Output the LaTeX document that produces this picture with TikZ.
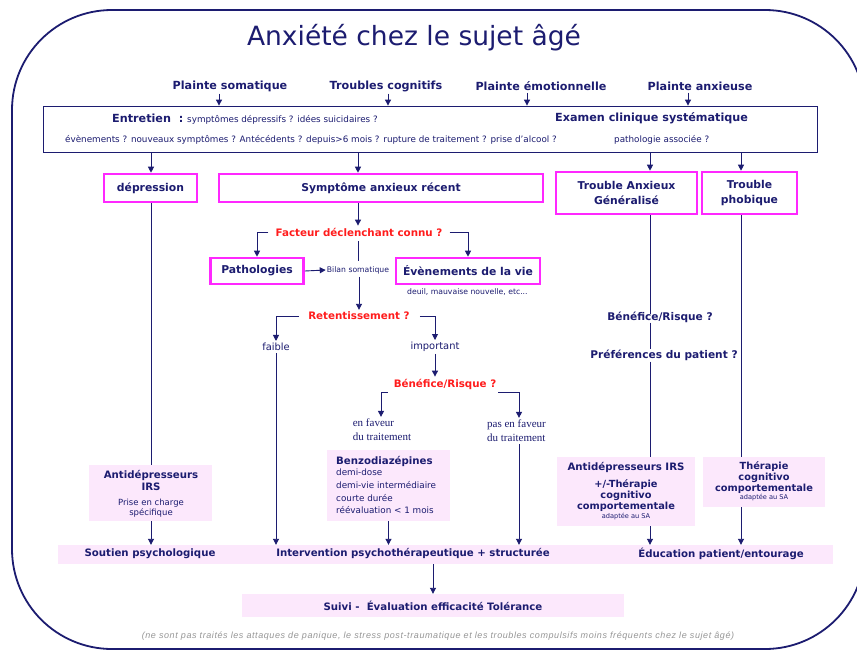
\documentclass[tikz,border=0pt]{standalone}
\usepackage{fontspec}
\setmainfont{DejaVu Sans}
\newfontfamily\serifface{Liberation Serif}
\newfontfamily\notefont[LetterSpace=6.5]{Liberation Sans}
\usetikzlibrary{arrows.meta}

\definecolor{navy}{RGB}{28,28,112}
\definecolor{mag}{RGB}{255,40,255}
\definecolor{pinkbg}{RGB}{252,232,252}
\definecolor{redq}{RGB}{255,28,28}
\definecolor{notegray}{RGB}{150,150,150}

\tikzset{
  every node/.style={text=navy, inner sep=2pt},
  hdA/.style={font=\bfseries\fontsize{11.2}{13}\selectfont},
  hdM/.style={font=\bfseries\fontsize{10.8}{15}\selectfont},
  hdB/.style={font=\bfseries\fontsize{10.2}{12}\selectfont},
  hdC/.style={font=\bfseries\fontsize{9.8}{11}\selectfont},
  txt/.style={font=\fontsize{8.8}{10.5}\selectfont},
  small/.style={font=\fontsize{7.7}{9}\selectfont},
  tinytxt/.style={font=\fontsize{6.6}{8}\selectfont},
  mid/.style={font=\fontsize{9.9}{12}\selectfont},
  srf/.style={font=\serifface\fontsize{11}{14}\selectfont, align=left},
  quest/.style={font=\bfseries\fontsize{10.3}{12}\selectfont, text=redq},
  magbox/.style={draw=mag, line width=2.6pt, fill=white, inner sep=0pt, align=center, hdM},
  pinkbox/.style={fill=pinkbg, inner sep=0pt},
  arr/.style={draw=navy, line width=0.9pt, -{Triangle[length=6pt,width=6pt]}},
  ln/.style={draw=navy, line width=0.9pt},
  frame/.style={draw=navy, line width=1.8pt, rounded corners=100pt},
}

\begin{document}
\begin{tikzpicture}[x=1pt,y=-1pt]
\useasboundingbox (0,0) rectangle (857,651);
\fill[white] (0,0) rectangle (857,651);

% outer rounded frame, partly running off the page on the right
\begin{scope}
  \clip (0,0) rectangle (857,651);
  \draw[frame] (12,10) rectangle (865,649);
\end{scope}

% column positions of the vertical connectors
\coordinate (k1) at (219,0);
\coordinate (k2) at (388,0);
\coordinate (k3) at (527,0);
\coordinate (k4) at (688,0);
\coordinate (cA) at (151,0);
\coordinate (cB) at (358,0);
\coordinate (cR) at (650,0);
\coordinate (cP) at (741,0);

% title
\node[font=\fontsize{26.5}{30}\selectfont] (title) at (414,38) {Anxiété chez le sujet âgé};

% presenting complaints
\node[hdA] (ps) at (230,86) {Plainte somatique};
\node[hdA] (tc) at (386,86) {Troubles cognitifs};
\node[hdA] (pe) at (541,86) {Plainte émotionnelle};
\node[hdA] (pa) at (700,86) {Plainte anxieuse};

% interview / examination box
\node[draw=navy, line width=0.8pt, minimum width=774, minimum height=46, inner sep=0pt] (ent) at (430,129) {};
\node[anchor=west, inner sep=0pt] (entA) at (112,119)
  {{\bfseries\fontsize{11.2}{13}\selectfont Entretien\ \ :\ }{\fontsize{8.8}{10}\selectfont symptômes dépressifs ? idées suicidaires ?}};
\node[txt, anchor=west, inner sep=0pt] (entB) at (65,140)
  {évènements ? nouveaux symptômes ? Antécédents ? depuis>6 mois ? rupture de traitement ? prise d'alcool ?};
\node[hdA, anchor=west, inner sep=0pt] (exa) at (555,118) {Examen clinique systématique};
\node[txt, anchor=west, inner sep=0pt] (exb) at (614,140) {pathologie associée ?};

\draw[arr] (ps.south -| k1) -- (ent.north -| k1);
\draw[arr] (tc.south -| k2) -- (ent.north -| k2);
\draw[arr] (pe.south -| k3) -- (ent.north -| k3);
\draw[arr] (pa.south -| k4) -- (ent.north -| k4);

% diagnoses
\node[magbox, minimum width=93, minimum height=28] (dep) at (150.5,188) {dépression};
\node[magbox, minimum width=324, minimum height=28] (sar) at (381,188) {Symptôme anxieux récent};
\node[magbox, minimum width=141, minimum height=42] (tag) at (626.5,193) {Trouble Anxieux\\Généralisé};
\node[magbox, minimum width=95, minimum height=42] (tph) at (749.5,193) {Trouble\\phobique};

\draw[arr] (ent.south -| cA) -- (dep.north -| cA);
\draw[arr] (ent.south -| cB) -- (sar.north -| cB);
\draw[arr] (ent.south -| cR) -- (tag.north -| cR);
\draw[arr] (ent.south -| cP) -- (tph.north -| cP);

% recent anxiety symptom branch
\node[quest] (fac) at (359,232) {Facteur déclenchant connu ?};
\draw[arr] (sar.south -| cB) -- (fac.north -| cB);

\node[magbox, minimum width=93, minimum height=26] (pat) at (257,271) {Pathologies};
\node[magbox, minimum width=144, minimum height=26] (eve) at (468,271) {Évènements de la vie};
\node[small, inner sep=1pt] (bil) at (358,270) {Bilan somatique};
\node[small, anchor=west, inner sep=0pt] (deu) at (407,292) {deuil, mauvaise nouvelle, etc...};

\draw[arr] ([xshift=-5pt]fac.west) -| (pat.north);
\draw[arr] ([xshift=5pt]fac.east) -| (eve.north);
\draw[arr] (pat.east) -- (bil.west);
\draw[ln, shorten <=3pt, shorten >=4pt] (fac.south -| cB) -- (bil.north -| cB);

\node[quest] (ret) at (359,316) {Retentissement ?};
\draw[arr, shorten <=2pt] (bil.south -| ret.north) -- (ret.north);

\node[mid] (fai) at (276,347) {faible};
\node[mid] (imp) at (435,347) {important};
\draw[arr] ([xshift=-7pt]ret.west) -| (fai.north);
\draw[arr] ([xshift=8pt]ret.east) -| (imp.north);

\node[quest] (ben) at (445,384) {Bénéfice/Risque ?};
\draw[arr] (imp.south) -- (imp.south |- ben.north);

\node[srf] (enf) at (382,430) {en faveur\\du traitement};
\node[srf] (paf) at (516.5,431) {pas en faveur\\du traitement};
\draw[arr] ([xshift=-4pt,yshift=-1pt]ben.south west) -| ([xshift=-1pt]enf.north);
\draw[arr] ([yshift=-1pt]ben.south east) -| ([xshift=2.5pt]paf.north);

% treatment boxes
\node[pinkbox, minimum width=123, minimum height=71] (bzd) at (388.5,485.5) {};
\node[hdB, anchor=west, inner sep=0pt] (bzt) at (336,461) {Benzodiazépines};
\node[txt, anchor=north west, align=left, inner sep=0pt, font=\fontsize{8.8}{12.7}\selectfont] (bzl) at (336,469)
  {demi-dose\\demi-vie intermédiaire\\courte durée\\réévaluation < 1 mois};

\node[pinkbox, minimum width=123, minimum height=56] (adl) at (150.5,493) {};
\node[hdB, align=center] (adlt) at (151,480) {Antidépresseurs\\IRS};
\node[align=center, font=\fontsize{8.5}{10}\selectfont] (adls) at (151,508) {Prise en charge\\spécifique};

\node[pinkbox, minimum width=138, minimum height=69] (adr) at (626,491.5) {};
\node[hdB] (adrt) at (626,467) {Antidépresseurs IRS};
\node[hdC, align=center] (adrs) at (626,496) {+/-Thérapie\\cognitivo\\comportementale};
\node[tinytxt] (adra) at (626,517) {adaptée au SA};

\node[pinkbox, minimum width=122, minimum height=50] (thr) at (764,482) {};
\node[hdC, align=center] (thrt) at (764,478) {Thérapie\\cognitivo\\comportementale};
\node[tinytxt] (thra) at (764,498) {adaptée au SA};

\draw[ln] (dep.south -| cA) -- (adl.north -| cA);

% right-hand branches
\node[font=\bfseries\fontsize{10.6}{12}\selectfont] (bnr) at (660,317) {Bénéfice/Risque ?};
\node[font=\bfseries\fontsize{10.6}{12}\selectfont] (prf) at (664,355) {Préférences du patient ?};
\draw[ln] (tag.south -| cR) -- ([yshift=-5pt]bnr.north -| cR);
\draw[ln] ([yshift=2pt]bnr.south -| cR) -- ([yshift=-2pt]prf.north -| cR);
\draw[ln] ([yshift=1pt]prf.south -| cR) -- (adr.north -| cR);
\draw[ln] (tph.south -| cP) -- (thr.north -| cP);

% bottom band
\node[pinkbox, minimum width=775, minimum height=19] (band) at (445.5,554.5) {};
\node[hdB] (sou) at (150,554) {Soutien psychologique};
\node[hdB] (itv) at (413,554) {Intervention psychothérapeutique + structurée};
\node[hdB] (edu) at (721,554) {Éducation patient/entourage};

\draw[arr] (adl.south -| cA) -- (band.north -| cA);
\draw[arr] (fai.south) -- (fai.south |- band.north);
\draw[arr] (bzd.south) -- (bzd.south |- band.north);
\draw[arr] ([xshift=2.5pt]paf.south) -- ([xshift=2.5pt]paf.south |- band.north);
\draw[arr] (adr.south -| cR) -- (band.north -| cR);
\draw[arr] (thr.south -| cP) -- (band.north -| cP);

% follow-up
\node[pinkbox, minimum width=382, minimum height=23] (suv) at (433,605.5) {};
\node[hdB] (suvt) at (433,606) {Suivi -\ \ Évaluation efficacité Tolérance};
\draw[arr] (band.south -| suv.north) -- (suv.north);

% footnote
\node[font=\notefont\itshape\fontsize{9}{10}\selectfont, text=notegray] (note) at (438,636)
  {(ne sont pas traités les attaques de panique, le stress post-traumatique et les troubles compulsifs moins fréquents chez le sujet âgé)};
\end{tikzpicture}
\end{document}
